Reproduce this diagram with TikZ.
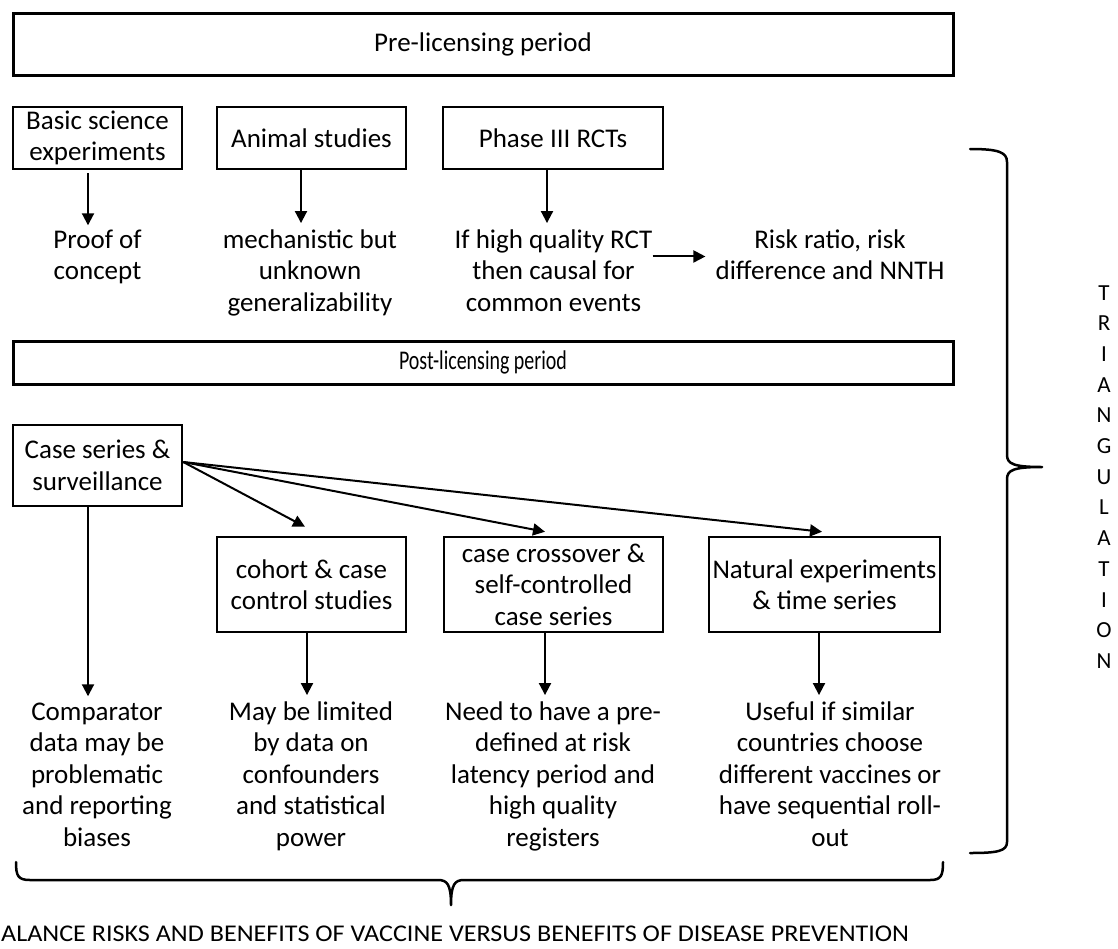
\documentclass[tikz,border=0pt]{standalone}
\usepackage{fontspec}
\setmainfont{Carlito}
\usetikzlibrary{arrows.meta,positioning}

\begin{document}
\begin{tikzpicture}[x=1pt,y=-1pt,>={Triangle[length=12pt,width=12pt]}]
\tikzstyle{every node}=[font=\fontsize{27}{31.5}\selectfont]
\tikzstyle{period}=[draw=black,line width=3pt,minimum width=940pt,inner sep=0pt]
\tikzstyle{study}=[draw=black,line width=2.5pt,align=center,inner sep=0pt]
\tikzstyle{result}=[align=center,inner sep=0pt,anchor=base]
\tikzstyle{link}=[->,line width=2pt]
\tikzstyle{bracket}=[line width=2.5pt,line cap=round,line join=round]
\useasboundingbox (0,0) rectangle (1118,948);

% pre-licensing period
\node[period,minimum height=62pt] (pre) at (483,44.3) {Pre-licensing period};
\node[study,minimum width=169pt,minimum height=62pt] (basic) at (97.5,138) {Basic science\\experiments};
\node[study,minimum width=189pt,minimum height=62pt] (animal) at (311.5,138) {Animal studies};
\node[study,minimum width=220pt,minimum height=62pt] (phase) at (553,138) {Phase III RCTs};

% base = last line
\node[result] (proof) at (97.5,279.5) {Proof of\\concept};
\node[result] (mech) at (310,311) {mechanistic but\\unknown\\generalizability};
\node[result] (causal) at (553.5,311) {If high quality RCT\\then causal for\\common events};
\node[result] (ratio) at (830,279.5) {Risk ratio, risk\\difference and NNTH};

\draw[link,shorten <=3pt,shorten >=4pt] ([xshift=-9.5pt]basic.south) -- ([xshift=-9.5pt]basic.south |- proof.north);
\draw[link,shorten >=6pt] ([xshift=-10.5pt]animal.south) -- ([xshift=-10.5pt]animal.south |- mech.north);
\draw[link,shorten >=6pt] ([xshift=-6pt]phase.south) -- ([xshift=-6pt]phase.south |- causal.north);
\draw[link,shorten >=10pt] ([yshift=-2pt]causal.east |- ratio.center) -- ([yshift=-2pt]ratio.west);

% post-licensing period
\node[period,minimum height=43pt] (post) at (483,362.5) {\resizebox{168pt}{\height}{Post-licensing period}};
\node[study,minimum width=169pt,minimum height=81pt] (case) at (97.5,465.5) {Case series \&\\surveillance};
\node[study,minimum width=189pt,minimum height=95pt] (cohort) at (311.5,584.5) {cohort \& case\\control studies};
\node[study,minimum width=219pt,minimum height=95pt] (cross) at (553.5,584.5) {case crossover \&\\self-controlled\\case series};
\node[study,minimum width=231pt,minimum height=95pt] (natural) at (824.5,584.5) {Natural experiments\\\& time series};

\node[result] (comp) at (97,846) {Comparator\\data may be\\problematic\\and reporting\\biases};
\node[result] (limit) at (311,846) {May be limited\\by data on\\confounders\\and statistical\\power};
\node[result] (need) at (553,846) {Need to have a pre-\\defined at risk\\latency period and\\high quality\\registers};
\node[result] (useful) at (830,846) {Useful if similar\\countries choose\\different vaccines or\\have sequential roll-\\out};

\draw[link] ([yshift=3.5pt]case.east) -- ([xshift=-6.5pt,yshift=9pt]cohort.north);
\draw[link] ([yshift=3.5pt]case.east) -- ([xshift=-8.5pt,yshift=4pt]cross.north);
\draw[link] ([yshift=3.5pt]case.east) -- ([xshift=-2.5pt,yshift=4pt]natural.north);
\draw[link,shorten >=6pt] ([xshift=-9.5pt]case.south) -- ([xshift=-9.5pt]case.south |- comp.north);
\draw[link,shorten >=6pt] ([xshift=-4.5pt]cohort.south) -- ([xshift=-4.5pt]cohort.south |- limit.north);
\draw[link,shorten >=6pt] ([xshift=-8.5pt]cross.south) -- ([xshift=-8.5pt]cross.south |- need.north);
\draw[link,shorten >=6pt] ([xshift=-5.5pt]natural.south) -- ([xshift=-5.5pt]natural.south |- useful.north);

% braces
\draw[bracket] (970,149) .. controls (998,149) and (1007,152) .. (1007,162) -- (1007,455)
  .. controls (1007,464) and (1014,467) .. (1042,467)
  .. controls (1014,467) and (1007,470) .. (1007,479) -- (1007,842)
  .. controls (1007,851) and (998,853) .. (970,853);
\draw[bracket] (16,862) .. controls (16,876) and (18,880) .. (30,880) -- (438,880)
  .. controls (447,880) and (451,884) .. (451,905)
  .. controls (451,884) and (455,880) .. (464,880) -- (930,880)
  .. controls (941,880) and (943,876) .. (943,862);

\node[anchor=base,align=center,inner sep=0pt,font=\fontsize{23}{30.7}\selectfont] (tri) at (1104,668.4) {T\\R\\I\\A\\N\\G\\U\\L\\A\\T\\I\\O\\N};
\node[anchor=base west,inner sep=0pt,font=\fontsize{24}{30}\selectfont] (balance) at (1,941) {\resizebox{908pt}{\height}{ALANCE RISKS AND BENEFITS OF VACCINE VERSUS BENEFITS OF DISEASE PREVENTION}};
\end{tikzpicture}
\end{document}
